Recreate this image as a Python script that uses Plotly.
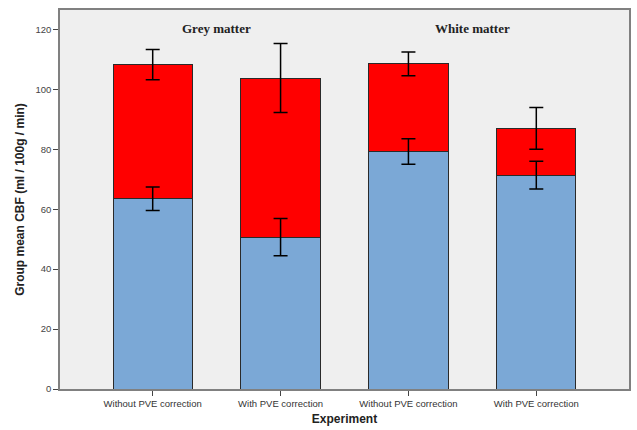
import plotly.graph_objects as go

categories = ["Without PVE correction", "With PVE correction",
              "Without PVE correction", "With PVE correction"]
x_pos = [0, 1, 2, 3]
blue_values = [63.5, 50.7, 79.3, 71.4]
blue_errors = [3.9, 6.2, 4.25, 4.65]
red_values = [44.8, 53.1, 29.2, 15.6]
red_errors = [5.05, 11.5, 3.95, 6.95]
group_labels = ["Grey matter", "White matter"]
group_x = [0.5, 2.5]
y_ticks = [0, 20, 40, 60, 80, 100, 120]

totals = [b + r for b, r in zip(blue_values, red_values)]

fig = go.Figure()
fig.add_trace(go.Bar(
    x=x_pos, y=blue_values, width=0.62,
    marker=dict(color="#7BA8D6", line=dict(color="#2a2a2a", width=1)),
    showlegend=False, hoverinfo="skip",
))
fig.add_trace(go.Bar(
    x=x_pos, y=red_values, width=0.62,
    marker=dict(color="#FF0000", line=dict(color="#2a2a2a", width=1)),
    showlegend=False, hoverinfo="skip",
))
# error bars drawn on top of the stacked bars
fig.add_trace(go.Scatter(
    x=x_pos, y=blue_values, mode="markers",
    marker=dict(size=1, opacity=0),
    error_y=dict(type="data", array=blue_errors, visible=True,
                 color="black", thickness=1.5, width=7),
    showlegend=False,
))
fig.add_trace(go.Scatter(
    x=x_pos, y=totals, mode="markers",
    marker=dict(size=1, opacity=0),
    error_y=dict(type="data", array=red_errors, visible=True,
                 color="black", thickness=1.5, width=7),
    showlegend=False,
))

for lbl, gx in zip(group_labels, group_x):
    fig.add_annotation(x=gx, y=1.0, xref="x", yref="paper", yanchor="top",
                       yshift=-9, text="<b>%s</b>" % lbl, showarrow=False,
                       font=dict(family="Liberation Serif", size=13, color="#222"))

fig.update_layout(
    width=637, height=430,
    margin=dict(l=60, r=6, t=10, b=39),
    barmode="stack",
    paper_bgcolor="white",
    plot_bgcolor="#EFEFEF",
    font=dict(family="Liberation Sans, Arial", size=9, color="#333"),
)
fig.update_xaxes(
    range=[-0.725, 3.725], tickvals=x_pos, ticktext=categories,
    ticks="outside", ticklen=5, tickcolor="#444",
    showline=True, linecolor="#808080", linewidth=1.5, mirror=True,
    showgrid=False, zeroline=False,
    title=dict(text="<b>Experiment</b>", font=dict(size=12, color="#222"), standoff=6),
    tickfont=dict(size=9.5, color="#333"),
)
fig.update_yaxes(
    range=[0, 126.5], tickvals=y_ticks,
    ticks="outside", ticklen=5, tickcolor="#444",
    showline=True, linecolor="#808080", linewidth=1.5, mirror=True,
    showgrid=False, zeroline=False,
    title=dict(text="<b>Group mean CBF (ml / 100g / min)</b>",
               font=dict(size=12, color="#222"), standoff=8),
    tickfont=dict(size=9.5, color="#444"),
)

fig.write_html("out.html", config={"displayModeBar": False},
               post_script="document.body.style.margin='0';document.body.style.overflow='hidden';")
